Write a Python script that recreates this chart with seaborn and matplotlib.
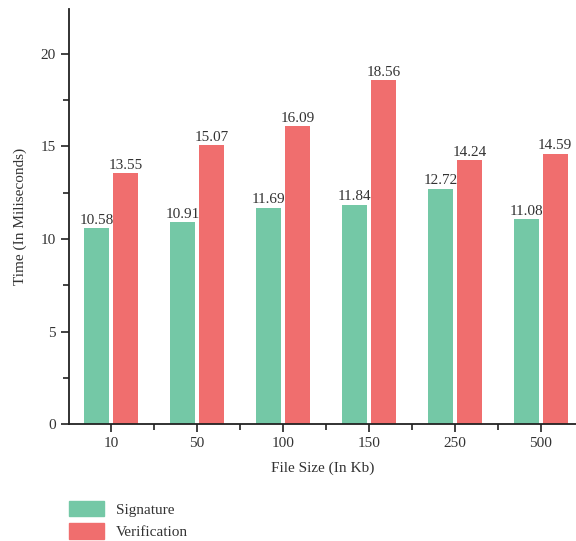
import matplotlib
matplotlib.use("Agg")
import matplotlib.pyplot as plt
from matplotlib.ticker import MultipleLocator, FixedLocator
import seaborn as sns
import pandas as pd

file_sizes = ["10", "50", "100", "150", "250", "500"]
signature = [10.58, 10.91, 11.69, 11.84, 12.72, 11.08]
verification = [13.55, 15.07, 16.09, 18.56, 14.24, 14.59]
series_names = ["Signature", "Verification"]
colors = ["#74C8A6", "#F06E6E"]

df = pd.DataFrame({
    "size": file_sizes * 2,
    "time": signature + verification,
    "kind": [series_names[0]] * len(file_sizes) + [series_names[1]] * len(file_sizes),
})

sns.set_style("ticks")
plt.rcParams["font.family"] = ["Liberation Serif", "DejaVu Serif"]
text_color = "#333333"

fig = plt.figure(figsize=(5.76, 5.41), dpi=100)
ax = fig.add_axes([0.12, 0.216, 0.88, 0.767])

sns.barplot(data=df, x="size", y="time", hue="kind", order=file_sizes,
            hue_order=series_names, palette=colors, width=0.676, gap=0.14,
            saturation=1, linewidth=0, legend=False, ax=ax)

for cont in ax.containers:
    ax.bar_label(cont, fmt="%.2f", padding=1, fontsize=11, color=text_color)

ax.set_ylim(0, 22.4)
ax.set_xlim(-0.49, 5.41)
ax.yaxis.set_major_locator(MultipleLocator(5))
ax.yaxis.set_minor_locator(MultipleLocator(2.5))
ax.xaxis.set_minor_locator(FixedLocator([i + 0.5 for i in range(-1, len(file_sizes))]))
ax.tick_params(axis="both", which="major", length=6, width=1.2, colors="#222222",
               labelsize=11, labelcolor=text_color, direction="out")
ax.tick_params(axis="both", which="minor", length=4, width=1.2, colors="#222222",
               direction="out")
for side in ("top", "right"):
    ax.spines[side].set_visible(False)
for side in ("left", "bottom"):
    ax.spines[side].set_linewidth(1.3)
    ax.spines[side].set_color("#222222")

ax.set_xlabel("File Size (In Kb)", fontsize=11, color=text_color, labelpad=8)
ax.set_ylabel("Time (In Miliseconds)", fontsize=11, color=text_color, labelpad=10)

handles = [plt.Rectangle((0, 0), 1, 1, color=c) for c in colors]
fig.legend(handles, series_names, loc="lower left", bbox_to_anchor=(0.117, 0.0),
           frameon=False, fontsize=11, handlelength=2.3, handleheight=1.2,
           labelcolor=text_color, labelspacing=0.45, handletextpad=0.8,
           borderpad=0.1, borderaxespad=0.0)

fig.savefig("out.png", dpi=100)
